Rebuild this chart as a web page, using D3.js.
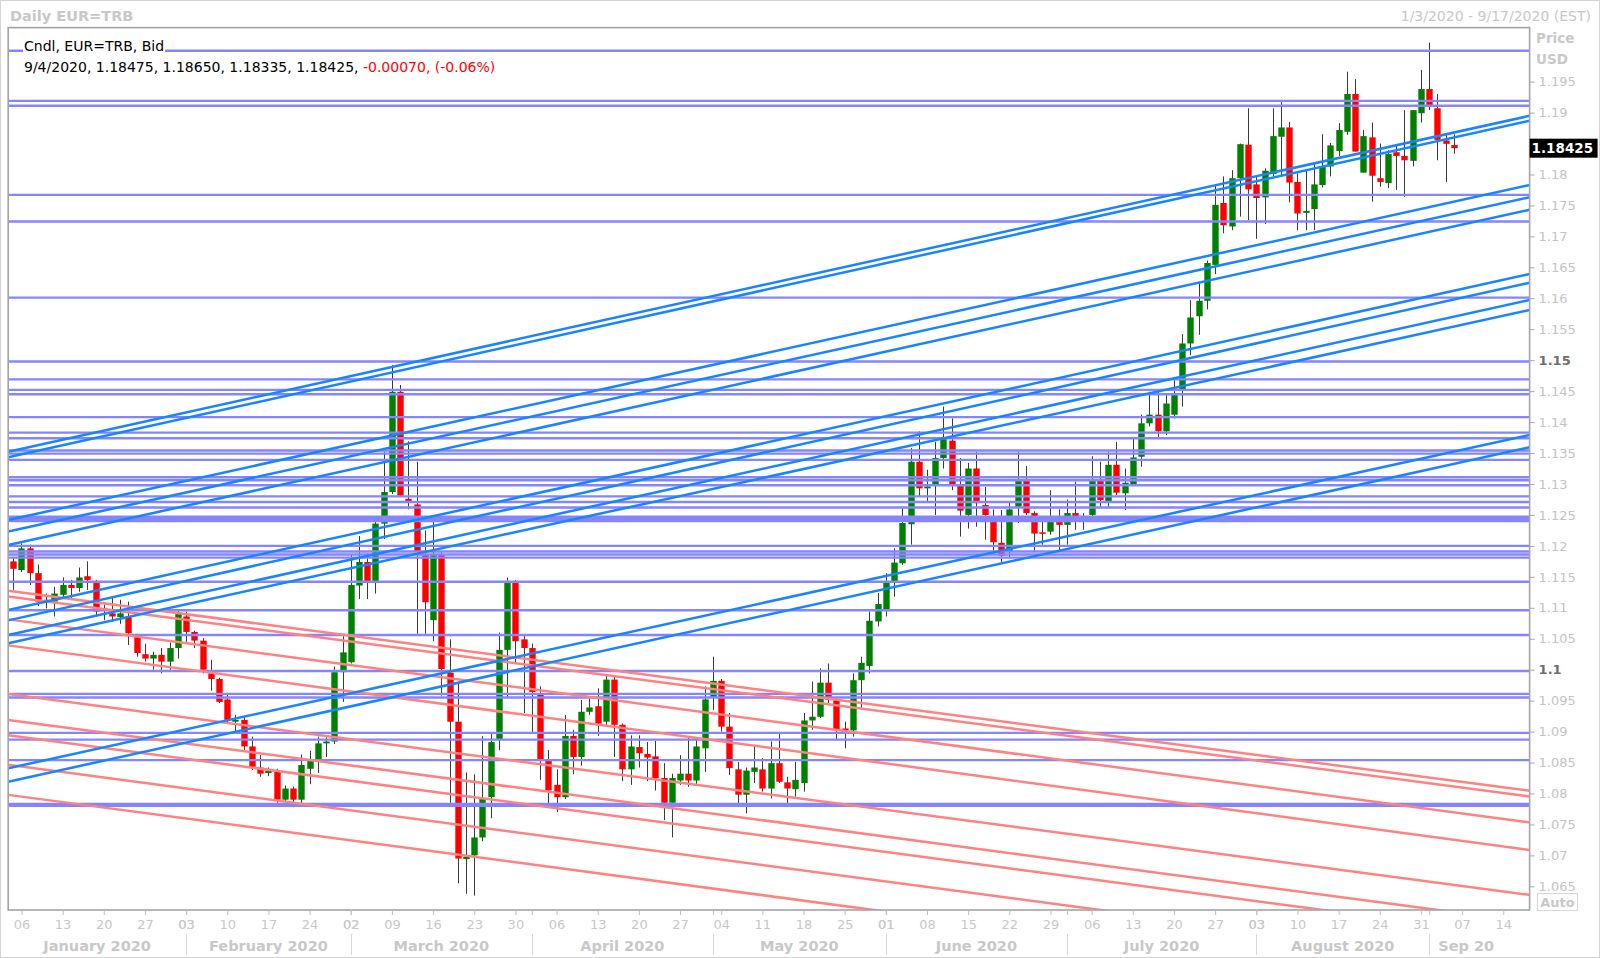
<!DOCTYPE html>
<html><head><meta charset="utf-8">
<script src="https://cdn.jsdelivr.net/npm/d3@7"></script>
<style>
html,body{margin:0;padding:0;background:#fff;}
svg{display:block;font-family:"DejaVu Sans",Verdana,sans-serif;}
</style></head><body>
<svg id="c" width="1600" height="958"></svg>
<script>
// ---------------- DATA ----------------
const dates = ["01-03","01-06","01-07","01-08","01-09","01-10","01-13","01-14","01-15","01-16","01-17","01-20","01-21","01-22","01-23","01-24","01-27","01-28","01-29","01-30","01-31",
"02-03","02-04","02-05","02-06","02-07","02-10","02-11","02-12","02-13","02-14","02-17","02-18","02-19","02-20","02-21","02-24","02-25","02-26","02-27","02-28",
"03-02","03-03","03-04","03-05","03-06","03-09","03-10","03-11","03-12","03-13","03-16","03-17","03-18","03-19","03-20","03-23","03-24","03-25","03-26","03-27","03-30","03-31",
"04-01","04-02","04-03","04-06","04-07","04-08","04-09","04-10","04-13","04-14","04-15","04-16","04-17","04-20","04-21","04-22","04-23","04-24","04-27","04-28","04-29","04-30",
"05-01","05-04","05-05","05-06","05-07","05-08","05-11","05-12","05-13","05-14","05-15","05-18","05-19","05-20","05-21","05-22","05-25","05-26","05-27","05-28","05-29",
"06-01","06-02","06-03","06-04","06-05","06-08","06-09","06-10","06-11","06-12","06-15","06-16","06-17","06-18","06-19","06-22","06-23","06-24","06-25","06-26","06-29","06-30",
"07-01","07-02","07-03","07-06","07-07","07-08","07-09","07-10","07-13","07-14","07-15","07-16","07-17","07-20","07-21","07-22","07-23","07-24","07-27","07-28","07-29","07-30","07-31",
"08-03","08-04","08-05","08-06","08-07","08-10","08-11","08-12","08-13","08-14","08-17","08-18","08-19","08-20","08-21","08-24","08-25","08-26","08-27","08-28","08-31",
"09-01","09-02","09-03","09-04"];
const open = [1.1175,1.1161,1.1196,1.1156,1.1113,1.1110,1.1121,1.1137,1.1132,1.1151,1.1140,1.1095,1.1091,1.1085,1.1086,1.1056,1.1025,1.1018,1.1024,1.1013,1.1035,
1.1086,1.1061,1.1047,1.0994,1.0985,1.0952,1.0916,1.0919,1.0876,1.0842,1.0833,1.0835,1.0790,1.0808,1.0790,1.0840,1.0853,1.0881,1.0884,1.0996,
1.1012,1.1136,1.1174,1.1140,1.1236,1.1287,1.1449,1.1276,1.1267,1.1185,1.1080,1.1185,1.0995,1.0916,1.0694,1.0700,1.0729,1.0794,1.0888,1.1032,1.1140,1.1049,
1.1035,1.0961,1.0855,1.0814,1.0794,1.0893,1.0859,1.0932,1.0941,1.0916,1.0984,1.0911,1.0839,1.0875,1.0864,1.0860,1.0825,1.0785,1.0821,1.0832,1.0821,1.0873,
1.0956,1.0982,1.0908,1.0839,1.0798,1.0835,1.0839,1.0808,1.0849,1.0818,1.0807,1.0817,1.0918,1.0924,1.0979,1.0952,1.0905,1.0902,1.0983,1.1006,1.1078,
1.1098,1.1141,1.1172,1.1235,1.1336,1.1293,1.1298,1.1342,1.1370,1.1300,1.1250,1.1325,1.1266,1.1240,1.1205,1.1190,1.1263,1.1305,1.1253,1.1222,1.1223,1.1239,
1.1234,1.1253,1.1240,1.1250,1.1305,1.1271,1.1331,1.1285,1.1300,1.1344,1.1398,1.1412,1.1385,1.1412,1.1452,1.1527,1.1571,1.1596,1.1654,1.1754,1.1716,1.1794,1.1848,
1.1784,1.1763,1.1801,1.1861,1.1876,1.1788,1.1738,1.1744,1.1783,1.1813,1.1838,1.1869,1.1930,1.1803,1.1860,1.1794,1.1786,1.1836,1.1830,1.1822,1.1899,
1.1938,1.1907,1.1855,1.18475];
const high = [1.1180,1.1204,1.1202,1.1170,1.1123,1.1134,1.1149,1.1145,1.1165,1.1175,1.1145,1.1105,1.1118,1.1113,1.1110,1.1058,1.1042,1.1029,1.1035,1.1044,1.1097,
1.1094,1.1063,1.1051,1.1016,1.0987,1.0959,1.0927,1.0924,1.0892,1.0862,1.0842,1.0840,1.0813,1.0811,1.0863,1.0869,1.0892,1.0891,1.1005,1.1054,
1.1186,1.1216,1.1188,1.1242,1.1352,1.1492,1.1460,1.1369,1.1336,1.1225,1.1239,1.1190,1.1049,1.0978,1.0834,1.0831,1.0893,1.0896,1.1060,1.1149,1.1145,1.1055,
1.1042,1.0973,1.0870,1.0839,1.0927,1.0903,1.0951,1.0953,1.0970,1.0990,1.0991,1.0913,1.0894,1.0894,1.0883,1.0885,1.0849,1.0832,1.0862,1.0890,1.0889,1.0973,
1.1021,1.0985,1.0930,1.0851,1.0842,1.0876,1.0857,1.0884,1.0897,1.0827,1.0851,1.0930,1.0981,1.1002,1.1010,1.0955,1.0916,1.0994,1.1021,1.1094,1.1124,
1.1156,1.1196,1.1261,1.1358,1.1385,1.1323,1.1368,1.1425,1.1406,1.1342,1.1334,1.1352,1.1295,1.1259,1.1258,1.1271,1.1352,1.1329,1.1256,1.1247,1.1290,1.1259,
1.1275,1.1304,1.1253,1.1345,1.1336,1.1352,1.1368,1.1325,1.1376,1.1412,1.1449,1.1449,1.1444,1.1468,1.1542,1.1597,1.1627,1.1661,1.1783,1.1797,1.1807,1.1850,1.1907,
1.1797,1.1810,1.1907,1.1918,1.1885,1.1802,1.1807,1.1818,1.1865,1.1851,1.1883,1.1966,1.1954,1.1872,1.1884,1.1850,1.1839,1.1848,1.1904,1.1904,1.1969,
1.2013,1.1930,1.1864,1.18650];
const low = [1.1129,1.1158,1.1137,1.1103,1.1099,1.1086,1.1115,1.1115,1.1126,1.1129,1.1088,1.1080,1.1078,1.1074,1.1040,1.1021,1.1013,1.1000,1.0994,1.0998,1.1018,
1.1045,1.1035,1.0994,1.0966,1.0946,1.0913,1.0897,1.0870,1.0838,1.0827,1.0828,1.0785,1.0784,1.0778,1.0779,1.0815,1.0833,1.0859,1.0880,1.0948,
1.1010,1.1114,1.1114,1.1123,1.1211,1.1284,1.1280,1.1259,1.1058,1.1058,1.1046,1.0958,1.0785,1.0655,1.0638,1.0635,1.0723,1.0760,1.0870,1.0956,1.1012,1.0930,
1.0899,1.0822,1.0777,1.0770,1.0791,1.0831,1.0845,1.0927,1.0893,1.0910,1.0859,1.0820,1.0814,1.0842,1.0820,1.0805,1.0757,1.0729,1.0814,1.0811,1.0815,1.0835,
1.0935,1.0900,1.0830,1.0782,1.0768,1.0817,1.0803,1.0792,1.0817,1.0779,1.0795,1.0803,1.0903,1.0922,1.0946,1.0888,1.0873,1.0892,1.0938,1.0994,1.1070,
1.1086,1.1118,1.1169,1.1202,1.1280,1.1271,1.1250,1.1325,1.1290,1.1215,1.1228,1.1231,1.1210,1.1191,1.1172,1.1180,1.1237,1.1250,1.1191,1.1202,1.1218,1.1193,
1.1202,1.1226,1.1226,1.1247,1.1263,1.1263,1.1282,1.1258,1.1300,1.1328,1.1393,1.1376,1.1379,1.1406,1.1425,1.1508,1.1541,1.1582,1.1639,1.1705,1.1710,1.1732,1.1726,
1.1696,1.1720,1.1797,1.1797,1.1755,1.1710,1.1710,1.1710,1.1779,1.1797,1.1830,1.1864,1.1837,1.1803,1.1756,1.1780,1.1778,1.1775,1.1764,1.1813,1.1884,
1.1904,1.1823,1.1788,1.18335];
const close = [1.1163,1.1196,1.1156,1.1110,1.1109,1.1123,1.1137,1.1132,1.1149,1.1145,1.1094,1.1099,1.1086,1.1091,1.1059,1.1027,1.1018,1.1024,1.1013,1.1035,1.1092,
1.1061,1.1047,1.1000,1.0985,1.0948,1.0919,1.0919,1.0876,1.0843,1.0832,1.0838,1.0790,1.0808,1.0790,1.0846,1.0853,1.0881,1.0884,1.0996,1.1028,
1.1137,1.1174,1.1140,1.1236,1.1287,1.1449,1.1281,1.1272,1.1191,1.1109,1.1185,1.1001,1.0916,1.0695,1.0698,1.0729,1.0791,1.0883,1.1032,1.1140,1.1046,1.1035,
1.0964,1.0855,1.0805,1.0794,1.0893,1.0859,1.0932,1.0939,1.0913,1.0984,1.0911,1.0839,1.0876,1.0865,1.0858,1.0825,1.0785,1.0825,1.0832,1.0821,1.0876,1.0952,
1.0982,1.0908,1.0841,1.0798,1.0837,1.0842,1.0808,1.0849,1.0819,1.0808,1.0822,1.0918,1.0924,1.0979,1.0951,1.0904,1.0903,1.0983,1.1011,1.1079,1.1106,
1.1141,1.1173,1.1237,1.1336,1.1293,1.1296,1.1342,1.1375,1.1298,1.1257,1.1325,1.1269,1.1250,1.1206,1.1184,1.1259,1.1305,1.1253,1.1220,1.1220,1.1239,1.1234,
1.1253,1.1239,1.1247,1.1305,1.1274,1.1331,1.1286,1.1302,1.1343,1.1398,1.1412,1.1385,1.1430,1.1447,1.1527,1.1569,1.1596,1.1657,1.1751,1.1718,1.1794,1.1849,1.1776,
1.1762,1.1806,1.1862,1.1876,1.1787,1.1737,1.1741,1.1784,1.1812,1.1847,1.1872,1.1930,1.1837,1.1862,1.1798,1.1788,1.1833,1.1830,1.1823,1.1904,1.1938,
1.1911,1.1856,1.18495,1.18425];

// horizontal support / resistance levels (price)
const levels = [1.2000,1.1919,1.1911,1.1767,1.1724,1.1601,1.1498,1.1469,1.1452,1.1445,1.1408,1.1383,1.1374,1.1354,1.1349,1.1339,
1.1311,1.1306,1.1298,1.1280,1.1271,1.1262,1.1247,1.1243,1.1240,1.1200,1.1191,1.1186,1.1181,1.1142,1.1096,1.1056,1.0998,
1.0961,1.0955,1.0898,1.0887,1.0854,1.0783,1.0780];
// rising trend lines: price on 2020-01-03 and on 2020-09-17
const blueLines = [[1.13540,1.18942],[1.13449,1.18862],[1.12436,1.17824],[1.12249,1.17626],[1.12033,1.17424],
[1.10982,1.16386],[1.10815,1.16246],[1.10579,1.15966],[1.10445,1.15805],[1.08425,1.13786],[1.08209,1.13587]];
// falling trend lines: price on 2020-01-03 and on 2020-09-17
const redLines = [[1.11264,1.08047],[1.11173,1.07956],[1.10802,1.07537],[1.10382,1.07091],[1.09598,1.06366],
[1.09178,1.05925],[1.08931,1.05678],[1.08453,1.05200],[1.07967,1.04713]];

const weekTicks = ["01-06","01-13","01-20","01-27","02-03","02-10","02-17","02-24","03-02","03-09","03-16","03-23","03-30",
"04-06","04-13","04-20","04-27","05-04","05-11","05-18","05-25","06-01","06-08","06-15","06-22","06-29","07-06","07-13",
"07-20","07-27","08-03","08-10","08-17","08-24","08-31","09-07","09-14"];
const monthStarts = ["02-03","03-02","04-01","05-01","06-01","07-01","08-03","09-01"];
const monthLabels = ["January 2020","February 2020","March 2020","April 2020","May 2020","June 2020","July 2020","August 2020","Sep 20"];
const priceTicks = [1.065,1.07,1.075,1.08,1.085,1.09,1.095,1.1,1.105,1.11,1.115,1.12,1.125,1.13,1.135,1.14,1.145,1.15,1.155,1.16,1.165,1.17,1.175,1.18,1.185,1.19,1.195];
const majorTicks = [1.1,1.15];
const rangeStart = "01-03", rangeEnd = "09-17";
const last = {date:"9/4/2020", o:"1.18475", h:"1.18650", l:"1.18335", c:"1.18425", chg:"-0.00070", pct:"(-0.06%)"};

// ---------------- HELPERS ----------------
function tIndex(md){ // trading-day (weekday) index from range start
  const b = new Date("2020-"+rangeStart+"T00:00:00Z"), d = new Date("2020-"+md+"T00:00:00Z");
  let n = 0;
  for (let t = new Date(b); t < d; t.setUTCDate(t.getUTCDate()+1)) { const w = t.getUTCDay(); if (w!==0 && w!==6) n++; }
  return n;
}
const L=8.2, R=1529.6, T=27.6, B=910;
const iEnd = tIndex(rangeEnd);
const x = d3.scaleLinear().domain([-0.61, iEnd+0.2]).range([L, R]);
const y = d3.scaleLinear().domain([1.06118, 1.20373]).range([B, T]);
const svg = d3.select("#c");
const gray = "#c4c4c4";

svg.append("rect").attr("x",0.5).attr("y",0.5).attr("width",1599).attr("height",957).attr("fill","#fff").attr("stroke","#d4d4d4");

svg.append("defs").append("clipPath").attr("id","clip").append("rect").attr("x",L).attr("y",T).attr("width",R-L).attr("height",B-T);
const plot = svg.append("g").attr("clip-path","url(#clip)");

// ---- candles ----
const data = dates.map((d,i)=>({i:tIndex(d), o:open[i], h:high[i], l:low[i], c:close[i]}));
const cg = plot.append("g");
cg.selectAll("line.w").data(data).join("line")
  .attr("x1",d=>Math.round(x(d.i))+0.5).attr("x2",d=>Math.round(x(d.i))+0.5)
  .attr("y1",d=>y(d.h)).attr("y2",d=>y(d.l)).attr("stroke","#3a3a3a").attr("stroke-width",1);
cg.selectAll("rect.b").data(data).join("rect")
  .attr("x",d=>Math.round(x(d.i))+0.5-3.2).attr("width",6.4)
  .attr("y",d=>y(Math.max(d.o,d.c))).attr("height",d=>Math.max(1.5, Math.abs(y(d.o)-y(d.c))))
  .attr("fill",d=>d.c>=d.o?"#008000":"#ff0000");

// ---- horizontal levels ----
plot.append("g").selectAll("line").data(levels).join("line")
  .attr("x1",L).attr("x2",R).attr("y1",d=>y(d)).attr("y2",d=>y(d))
  .attr("stroke","#8585ff").attr("stroke-width",2.4);

// ---- trend lines ----
function ext(p){ const i0=0, i1=iEnd, s=(p[1]-p[0])/(i1-i0); const d0=x.domain()[0], d1=x.domain()[1];
  return [[d0, p[0]+(d0-i0)*s],[d1, p[0]+(d1-i0)*s]]; }
plot.append("g").selectAll("line").data(redLines.map(ext)).join("line")
  .attr("x1",d=>x(d[0][0])).attr("y1",d=>y(d[0][1])).attr("x2",d=>x(d[1][0])).attr("y2",d=>y(d[1][1]))
  .attr("stroke","#ff8282").attr("stroke-width",2.5);
plot.append("g").selectAll("line").data(blueLines.map(ext)).join("line")
  .attr("x1",d=>x(d[0][0])).attr("y1",d=>y(d[0][1])).attr("x2",d=>x(d[1][0])).attr("y2",d=>y(d[1][1]))
  .attr("stroke","#1a84ff").attr("stroke-width",2.5);

// ---- frame ----
svg.append("rect").attr("x",L).attr("y",T).attr("width",R-L).attr("height",B-T).attr("fill","none").attr("stroke","#a4a4a4").attr("stroke-width",1.6);

// ---- right axis ----
const yc = y(close[close.length-1]);
const ay = svg.append("g").attr("transform",`translate(${R},0)`)
  .call(d3.axisRight(y).tickValues(priceTicks).tickSize(5).tickPadding(4)
    .tickFormat(d=>Math.abs(y(d)-yc)<12 ? "" : String(+d.toFixed(3))));
ay.select(".domain").remove();
ay.selectAll(".tick line").attr("stroke","#a8a8a8");
ay.selectAll(".tick text").attr("font-family","DejaVu Sans").attr("font-size",13)
  .attr("fill",d=>majorTicks.includes(d)?"#6e6e6e":gray).attr("font-weight",d=>majorTicks.includes(d)?"bold":"normal");

svg.append("text").attr("x",1536).attr("y",43).text("Price").attr("font-size",13.5).attr("font-weight","bold").attr("fill","#c8c8c8");
svg.append("text").attr("x",1536).attr("y",64).text("USD").attr("font-size",13.5).attr("font-weight","bold").attr("fill","#c8c8c8");

// current price marker
svg.append("rect").attr("x",R).attr("y",yc-9.5).attr("width",68).attr("height",19).attr("fill","#000");
svg.append("text").attr("x",R+2).attr("y",yc).attr("dy","0.36em").text(last.c).attr("font-size",13.5).attr("font-weight","bold").attr("fill","#fff");

// Auto box
svg.append("rect").attr("x",1537.5).attr("y",893.5).attr("width",40).attr("height",17).attr("fill","#fff").attr("stroke","#d8d8d8");
svg.append("text").attr("x",1557.5).attr("y",902).attr("dy","0.36em").attr("text-anchor","middle").text("Auto").attr("font-size",13).attr("font-weight","bold").attr("fill","#c8c8c8");

// ---- bottom axis ----
const tickIdx = weekTicks.map(tIndex).concat(monthStarts.map(tIndex));
const labelOf = {}; weekTicks.forEach(d=>{ labelOf[tIndex(d)] = d.slice(3); });
const ax = svg.append("g").attr("transform",`translate(0,${B})`)
  .call(d3.axisBottom(x).tickValues(tickIdx).tickSize(5).tickPadding(5).tickFormat(i=>labelOf[i]||""));
ax.select(".domain").remove();
ax.selectAll(".tick line").attr("stroke","#c0c0c0");
ax.selectAll(".tick text").attr("font-family","DejaVu Sans").attr("font-size",13).attr("fill","#c8c8c8");

const sepX = monthStarts.map(d=>x(tIndex(d)));
svg.append("g").selectAll("line").data(sepX).join("line")
  .attr("x1",d=>Math.round(d)+0.5).attr("x2",d=>Math.round(d)+0.5).attr("y1",934).attr("y2",955).attr("stroke","#d8d8d8");
const bounds = [L].concat(sepX).concat([x(tIndex(weekTicks[weekTicks.length-1]))]);
svg.append("g").selectAll("text").data(monthLabels).join("text")
  .attr("x",(d,k)=>(bounds[k]+bounds[k+1])/2).attr("y",950.5).attr("text-anchor","middle")
  .text(d=>d).attr("font-size",14.5).attr("font-weight","bold").attr("fill","#c8c8c8");

// ---- title and legend ----
svg.append("text").attr("x",10).attr("y",20.5).text("Daily EUR=TRB").attr("font-size",14.5).attr("font-weight","bold").attr("fill","#c8c8c8");
svg.append("text").attr("x",1591).attr("y",20.5).attr("text-anchor","end").text("1/3/2020 - 9/17/2020 (EST)").attr("font-size",14).attr("fill","#c8c8c8");

const legBg = svg.append("rect").attr("fill","#fff");
const leg1 = svg.append("text").attr("x",24).attr("y",51).text("Cndl, EUR=TRB, Bid").attr("font-size",14).attr("fill","#000");
const bb = leg1.node().getBBox();
legBg.attr("x",bb.x-1).attr("y",bb.y).attr("width",bb.width+2).attr("height",bb.height);
const leg2 = svg.append("text").attr("x",24).attr("y",72).attr("font-size",14);
leg2.append("tspan").attr("fill","#000").text(`${last.date}, ${last.o}, ${last.h}, ${last.l}, ${last.c}, `);
leg2.append("tspan").attr("fill","#ff0000").text(`${last.chg}, ${last.pct}`);
</script>
</body></html>
